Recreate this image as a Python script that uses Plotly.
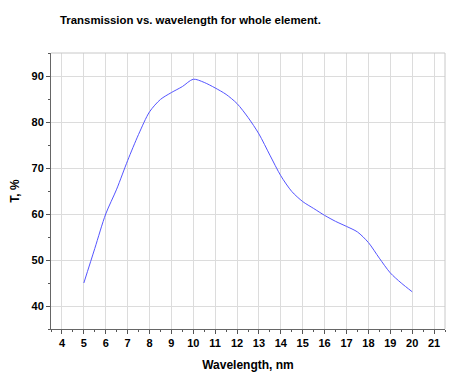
import plotly.graph_objects as go

wavelength = [5, 5.5, 6, 6.5, 7, 7.5, 8, 8.5, 9, 9.5, 10, 10.5, 11, 11.5, 12, 12.5, 13, 13.5,
              14, 14.5, 15, 15.5, 16, 16.5, 17, 17.5, 18, 18.5, 19, 19.5, 20]
transmission = [45.0, 52.5, 60.0, 65.4, 71.6, 77.3, 82.2, 84.9, 86.4, 87.7, 89.3, 88.6, 87.4, 86.0,
                84.0, 81.0, 77.4, 72.8, 68.3, 64.9, 62.7, 61.2, 59.7, 58.4, 57.3, 56.1, 53.8,
                50.4, 47.2, 45.0, 43.1]
x_ticks = list(range(4, 22))
y_ticks = [40, 50, 60, 70, 80, 90]

FONT = "Arial, Liberation Sans, sans-serif"
W, H = 453, 375  # page body has an 8px margin

fig = go.Figure()
fig.add_trace(go.Scatter(
    x=wavelength, y=transmission, mode="lines",
    line=dict(color="rgb(85,85,255)", width=1, shape="spline", smoothing=0.8),
    hoverinfo="skip", showlegend=False,
))

fig.update_layout(
    width=W, height=H,
    margin=dict(l=43, r=16, t=45, b=54, autoexpand=False),
    paper_bgcolor="white", plot_bgcolor="white",
    title=dict(text="<b>Transmission vs. wavelength for whole element.</b>",
               x=52/W, xanchor="left", y=1-12/H, yanchor="middle",
               xref="container", yref="container",
               font=dict(family=FONT, size=11.4, color="black")),
    font=dict(family=FONT, color="black"),
)

fig.update_xaxes(
    automargin=False,
    range=[3.5, 21.5], tickmode="array", tickvals=x_ticks,
    ticktext=[f"<b>{v}</b>" for v in x_ticks],
    tickfont=dict(family=FONT, size=11, color="black"),
    ticks="outside", ticklen=4, tickwidth=1, tickcolor="#555",
    minor=dict(dtick=0.5, tick0=3.5, ticks="outside", ticklen=2, tickcolor="#555", showgrid=False),
    showgrid=True, gridcolor="#dcdcdc", gridwidth=1,
    showline=True, linecolor="#666", linewidth=1, zeroline=False,
    title=dict(text="<b>Wavelength, nm</b>", font=dict(family=FONT, size=12, color="black"), standoff=12),
)
fig.update_yaxes(
    automargin=False,
    range=[35, 95], tickmode="array", tickvals=y_ticks,
    ticktext=[f"<b>{v}</b>" for v in y_ticks],
    tickfont=dict(family=FONT, size=11, color="black"),
    ticks="outside", ticklen=4, tickwidth=1, tickcolor="#555",
    minor=dict(dtick=5, tick0=35, ticks="outside", ticklen=2, tickcolor="#555", showgrid=False),
    showgrid=True, gridcolor="#dcdcdc", gridwidth=1,
    showline=True, linecolor="#666", linewidth=1, zeroline=False,
    title=dict(text="<b>T, %</b>", font=dict(family=FONT, size=12, color="black"), standoff=12),
)

# light frame on top and right
fig.add_shape(type="line", xref="paper", yref="paper", x0=0, x1=1, y0=1, y1=1,
              line=dict(color="#c8c8c8", width=1))
fig.add_shape(type="line", xref="paper", yref="paper", x0=1, x1=1, y0=0, y1=1,
              line=dict(color="#c8c8c8", width=1))

fig.write_html("out.html")
